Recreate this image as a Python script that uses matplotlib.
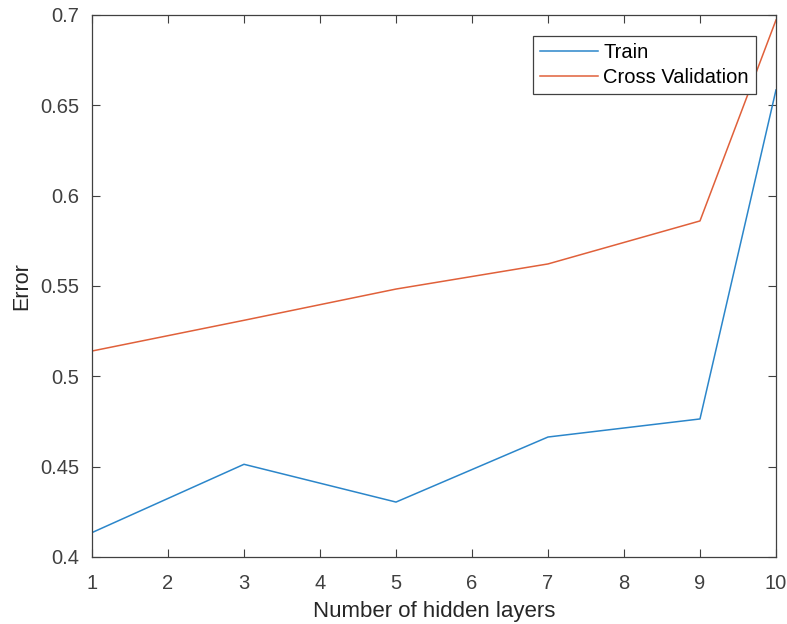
import matplotlib
matplotlib.use("Agg")
import matplotlib.pyplot as plt

layers = [1, 3, 5, 7, 9, 10]
train_err = [0.4135, 0.4513, 0.4304, 0.4664, 0.4764, 0.6585]
cv_err = [0.514, 0.531, 0.5483, 0.5622, 0.586, 0.6972]

plt.rcParams["font.family"] = ["Liberation Sans", "DejaVu Sans"]

fig = plt.figure(figsize=(7.87, 6.24), dpi=100)
ax = fig.add_axes([0.1169, 0.1074, 0.9860 - 0.1169, 0.976 - 0.1074])

ax.plot(layers, train_err, color="#2B86CA", lw=1.1, label="Train")
ax.plot(layers, cv_err, color="#E0603A", lw=1.1, label="Cross Validation")

ax.set_xlim(1, 10)
ax.set_ylim(0.4, 0.7)
ax.set_xticks(range(1, 11))
ax.set_yticks([0.4, 0.45, 0.5, 0.55, 0.6, 0.65, 0.7])
ax.set_yticklabels(["0.4", "0.45", "0.5", "0.55", "0.6", "0.65", "0.7"])

ax.tick_params(direction="in", top=True, right=True, length=6, width=0.8,
               colors="#404040", labelsize=14.5)
ax.tick_params(axis="x", pad=12)
ax.tick_params(axis="y", pad=9)
for s in ax.spines.values():
    s.set_color("#404040")
    s.set_linewidth(0.9)

ax.set_xlabel("Number of hidden layers", fontsize=16, color="#262626", labelpad=6)
ax.set_ylabel("Error", fontsize=15.5, color="#262626", labelpad=6)

leg = ax.legend(loc="upper right", bbox_to_anchor=(0.9705, 0.961), fontsize=14.5,
                fancybox=False, framealpha=1, edgecolor="#404040",
                handlelength=2.9, borderpad=0.35, labelspacing=0.3,
                handletextpad=0.25, borderaxespad=0)
leg.get_frame().set_linewidth(0.9)

fig.savefig("out.png", dpi=100)
